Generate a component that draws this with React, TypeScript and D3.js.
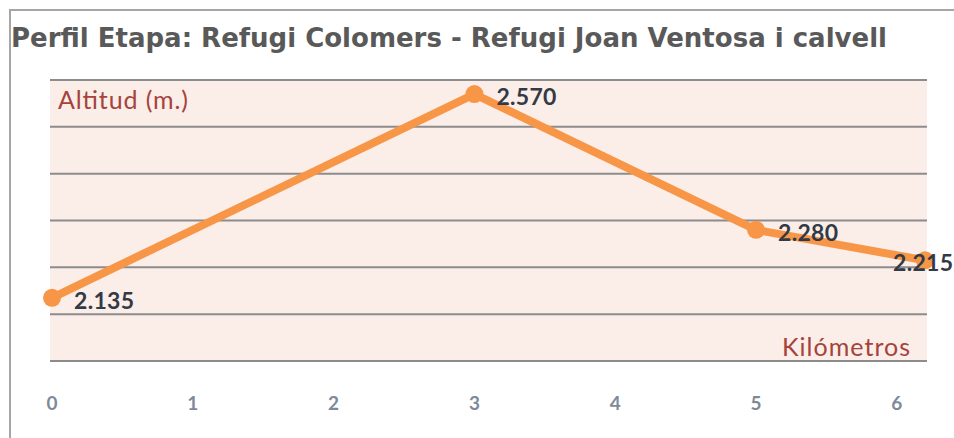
import React, { useEffect, useRef } from "react";
import * as d3 from "d3";

const title = "Perfil Etapa: Refugi Colomers - Refugi Joan Ventosa i calvell";
const km = [0, 3, 5, 6.2];
const altitude = [2135, 2570, 2280, 2215];
const labels = ["2.135", "2.570", "2.280", "2.215"];
const xTicks = [0, 1, 2, 3, 4, 5, 6];
const yTicks = [2000, 2100, 2200, 2300, 2400, 2500, 2600];

const App = () => {
  const ref = useRef<SVGSVGElement>(null);

  useEffect(() => {
    const width = 954,
      height = 438;
    const svg = d3.select(ref.current);
    svg.selectAll("*").remove();

    // frame round the whole chart
    svg
      .append("path")
      .attr("d", `M10,${height} L10,10 L${width},10`)
      .attr("fill", "none")
      .attr("stroke", "#a6a6a6")
      .attr("stroke-width", 2);

    svg
      .append("text")
      .attr("x", 11)
      .attr("y", 47)
      .attr("textLength", 876)
      .attr("lengthAdjust", "spacingAndGlyphs")
      .style("font-family", "'DejaVu Sans', Verdana, sans-serif")
      .style("font-weight", "bold")
      .style("font-size", "26px")
      .style("fill", "#595959")
      .text(title);

    const x = d3.scaleLinear().domain([0, 5]).range([52, 756]);
    const y = d3.scaleLinear().domain([2000, 2600]).range([361, 80]);

    // plot background
    svg
      .append("rect")
      .attr("x", 50)
      .attr("y", y(2600))
      .attr("width", 877)
      .attr("height", y(2000) - y(2600))
      .attr("fill", "#fbede8");

    svg
      .selectAll("line.grid")
      .data(yTicks)
      .join("line")
      .attr("class", "grid")
      .attr("x1", 50)
      .attr("x2", 927)
      .attr("y1", (d) => y(d))
      .attr("y2", (d) => y(d))
      .attr("stroke", "#8c8c8c")
      .attr("stroke-width", 2);

    svg
      .append("text")
      .attr("x", 58)
      .attr("y", 109)
      .attr("textLength", 130)
      .style("font-family", "Lato, 'Open Sans', sans-serif")
      .style("font-size", "25px")
      .style("fill", "#a5433c")
      .text("Altitud (m.)");

    svg
      .append("text")
      .attr("x", 910)
      .attr("y", 356)
      .attr("text-anchor", "end")
      .attr("textLength", 128)
      .style("font-family", "Lato, 'Open Sans', sans-serif")
      .style("font-size", "25px")
      .style("fill", "#a5433c")
      .text("Kilómetros");

    svg
      .selectAll("text.xtick")
      .data(xTicks)
      .join("text")
      .attr("class", "xtick")
      .attr("x", (d) => x(d))
      .attr("y", 410)
      .attr("text-anchor", "middle")
      .style("font-family", "Lato, 'Open Sans', sans-serif")
      .style("font-weight", "bold")
      .style("font-size", "19px")
      .style("fill", "#7f8a99")
      .text((d) => d);

    const pts = km.map((k, i) => [k, altitude[i]] as [number, number]);
    const line = d3
      .line<[number, number]>()
      .x((d) => x(d[0]))
      .y((d) => y(d[1]));

    svg
      .append("path")
      .datum(pts)
      .attr("d", line)
      .attr("fill", "none")
      .attr("stroke", "#f79646")
      .attr("stroke-width", 8)
      .attr("stroke-linejoin", "round");

    svg
      .selectAll("circle")
      .data(pts)
      .join("circle")
      .attr("cx", (d) => x(d[0]))
      .attr("cy", (d) => y(d[1]))
      .attr("r", 9)
      .attr("fill", "#f79646");

    svg
      .selectAll("text.value")
      .data(pts)
      .join("text")
      .attr("class", "value")
      .attr("x", (d) => Math.min(x(d[0]) + 22, width - 61))
      .attr("y", (d) => y(d[1]) + 11)
      .attr("textLength", 60)
      .style("font-family", "Lato, 'Open Sans', sans-serif")
      .style("font-weight", "bold")
      .style("font-size", "23px")
      .style("fill", "#333a45")
      .text((d, i) => labels[i]);
  }, []);

  return (
    <svg
      ref={ref}
      width={954}
      height={438}
      style={{ position: "absolute", left: 0, top: 0, background: "white" }}
    ></svg>
  );
};

export default App;
